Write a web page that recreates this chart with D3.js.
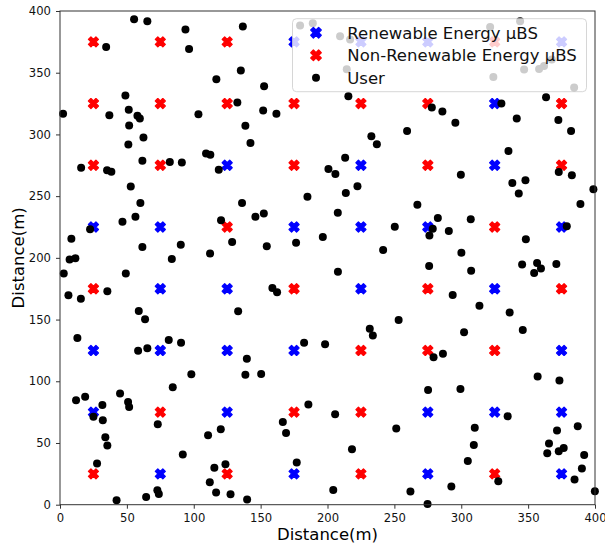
<!DOCTYPE html>
<html>
<head>
<meta charset="utf-8">
<script src="https://cdn.jsdelivr.net/npm/d3@7"></script>
<style>
  body { margin: 0; background: #fff; }
  text { font-family: "DejaVu Sans", sans-serif; }
</style>
</head>
<body>
<svg id="chart" width="605" height="546"></svg>
<script>
// station positions (m)
var renewable = [
  [175,375],[225,375],[275,375],[375,375],
  [325,325],
  [125,275],[225,275],[325,275],
  [25,225],[75,225],[175,225],[225,225],[275,225],[375,225],
  [75,175],[125,175],[225,175],[325,175],
  [25,125],[75,125],[125,125],[175,125],[375,125],
  [25,75],[125,75],[275,75],[325,75],[375,75],
  [75,25],[175,25],[275,25],[375,25]
];
var nonRenewable = [
  [25,375],[75,375],[125,375],[325,375],
  [25,325],[75,325],[125,325],[175,325],[225,325],[275,325],[375,325],
  [25,275],[75,275],[175,275],[275,275],[375,275],
  [125,225],[325,225],
  [25,175],[175,175],[275,175],[375,175],
  [225,125],[275,125],[325,125],
  [75,75],[175,75],[225,75],
  [25,25],[125,25],[225,25],[325,25]
];
// user positions (m)
var users = [
  [55.4,393.4],[65.3,391.7],[93.8,385.0],[136.7,387.4],[34.5,370.9],[96.5,369.3],[135.2,351.8],[116.9,344.8],
  [152.6,339.1],[48.9,331.6],[132.6,325.9],[2.3,316.7],[51.4,319.9],[36.9,315.6],[57.9,315.1],[59.7,313.0],
  [103.5,316.4],[151.9,319.4],[161.8,316.7],[51.7,307.3],[138.6,307.0],[62.4,297.6],[51.1,291.9],[142.4,293.0],
  [109.2,284.6],[112.4,283.5],[61.6,278.6],[82.1,277.6],[91.1,277.3],[15.8,273.0],[35.2,270.9],[38.4,269.7],
  [118.7,271.3],[200.7,271.9],[52.9,257.9],[60.1,244.4],[136.1,244.4],[185.0,249.5],[46.7,229.2],[56.4,233.3],
  [120.4,230.4],[146.1,233.3],[152.4,236.0],[22.5,223.1],[8.5,215.5],[61.6,208.7],[90.3,210.6],[128.7,212.8],
  [154.6,209.3],[176.5,212.2],[196.5,216.8],[112.2,203.5],[7.2,198.6],[11.5,199.7],[83.6,199.0],
  [179.5,388.3],[189.0,390.1],[209.4,379.6],[216.9,376.9],[321.6,387.1],[344.0,391.7],[214.4,352.9],[324.0,346.6],
  [347.0,352.6],[358.2,353.1],[361.9,355.5],[367.7,360.7],[384.4,338.1],
  [215.6,331.0],[363.4,330.2],[278.0,321.9],[285.9,318.6],[330.0,325.1],[341.5,313.0],[372.6,311.6],[295.6,309.4],
  [382.1,302.7],[259.5,302.7],[232.8,298.6],[236.9,292.1],[335.3,286.5],[213.2,281.1],[205.9,267.9],[299.7,267.3],
  [372.9,269.5],[382.7,267.0],[338.2,260.6],[348.0,262.8],[222.4,258.1],[213.7,252.5],[343.0,252.2],[398.8,255.5],
  [267.2,243.0],[389.1,243.6],[207.7,236.5],[282.5,232.2],[307.1,231.2],[250.3,225.2],[278.7,223.6],[276.2,218.2],
  [290.7,221.7],[378.9,225.7],[348.3,215.0],[241.6,206.3],[300.1,204.1],
  [2.8,187.4],[49.2,187.4],[6.3,169.6],[15.6,166.9],[35.4,172.9],[158.8,175.5],[162.3,172.1],[58.9,156.9],
  [63.6,150.2],[133.2,156.7],[13.0,135.1],[58.4,124.8],[65.3,126.7],[81.3,133.4],[90.5,131.3],[139.7,118.3],
  [138.6,105.3],[150.4,105.9],[182.5,131.3],[198.2,130.0],[98.2,105.7],[84.3,95.1],[44.9,90.0],[18.8,87.5],
  [12.0,84.6],[50.9,83.2],[51.7,79.2],[31.7,80.8],[25.0,71.3],[32.0,68.4],[33.9,54.7],[35.4,47.9],
  [73.1,65.2],[120.2,61.1],[110.7,56.3],[166.6,67.0],[169.0,58.1],[185.7,81.1],[91.8,40.6],[27.7,33.3],
  [115.4,30.0],[123.7,32.8],[177.0,34.1],[112.0,18.2],[116.7,9.9],[127.5,8.4],[139.9,4.3],[72.8,11.7],
  [73.9,8.7],[64.4,6.3],[42.3,3.6],
  [207.8,188.7],[276.0,193.4],[307.4,189.5],[345.5,194.7],[356.7,195.8],[354.5,187.7],[359.6,191.3],[371.1,195.1],
  [293.6,169.9],[313.6,161.2],[336.2,155.8],[253.2,149.6],[231.6,142.5],[233.9,137.0],[302.1,139.8],[346.0,141.6],
  [279.3,119.4],[286.3,122.3],[357.1,103.9],[373.4,100.6],[275.2,93.0],[299.4,93.8],[205.7,73.2],[334.7,71.6],
  [251.4,61.8],[310.1,62.3],[387.1,63.6],[371.6,60.2],[218.3,44.9],[309.4,48.4],[365.6,49.6],[364.3,41.6],
  [372.9,43.3],[376.6,46.0],[391.9,40.3],[304.9,35.4],[390.2,29.4],[327.7,19.1],[384.7,20.5],[204.3,12.0],
  [262.0,10.7],[292.6,14.7],[274.8,0.6],[399.9,10.9]
];
var ticks = [0, 50, 100, 150, 200, 250, 300, 350, 400];
var legendLabels = ["Renewable Energy \u00b5BS", "Non-Renewable Energy \u00b5BS", "User"];

var svg = d3.select("#chart");

var x = d3.scaleLinear().domain([0, 400]).range([60, 595]);
var y = d3.scaleLinear().domain([0, 400]).range([504.7, 11]);

// filled "X" marker like matplotlib's
var xShape = [[0.25,0],[0.5,0.25],[0.75,0],[1,0.25],[0.75,0.5],[1,0.75],[0.75,1],[0.5,0.75],[0.25,1],[0,0.75],[0.25,0.5],[0,0.25]];
function xPath(s) {
  return "M" + xShape.map(function(p) { return [(p[0]-0.5)*s, (p[1]-0.5)*s].join(","); }).join("L") + "Z";
}

function drawStations(data, color) {
  svg.append("g").selectAll("path")
    .data(data).enter().append("path")
    .attr("d", xPath(10))
    .attr("transform", function(d) { return "translate(" + x(d[0]) + "," + y(d[1]) + ")"; })
    .style("fill", color).style("stroke", color).style("stroke-width", 1.3)
    .style("stroke-linejoin", "round");
}
drawStations(renewable, "#0000ff");
drawStations(nonRenewable, "#ff0000");

svg.append("g").selectAll("circle")
  .data(users).enter().append("circle")
  .attr("cx", function(d) { return x(d[0]); })
  .attr("cy", function(d) { return y(d[1]); })
  .attr("r", 4)
  .style("fill", "#000");

// axes
var xAxis = d3.axisBottom(x).tickValues(ticks).tickSize(4).tickPadding(5).tickSizeOuter(0);
var gx = svg.append("g").attr("transform", "translate(0," + y(0) + ")").call(xAxis);
var yAxis = d3.axisLeft(y).tickValues(ticks).tickSize(4).tickPadding(5).tickSizeOuter(0);
var gy = svg.append("g").attr("transform", "translate(" + x(0) + ",0)").call(yAxis);
[gx, gy].forEach(function(g) {
  g.select(".domain").remove();
  g.selectAll("line").style("stroke", "#333");
  g.selectAll("text").style("font-size", "11.6px").style("font-family", "DejaVu Sans").style("fill", "#111");
});

svg.append("rect")
  .attr("x", x(0)).attr("y", y(400))
  .attr("width", x(400) - x(0)).attr("height", y(0) - y(400))
  .style("fill", "none").style("stroke", "#333").style("stroke-width", 1);

svg.append("text")
  .attr("x", (x(0) + x(400)) / 2).attr("y", 540.3)
  .attr("text-anchor", "middle")
  .style("font-size", "16.5px")
  .text("Distance(m)");

svg.append("text")
  .attr("transform", "translate(24," + (y(0) + y(400)) / 2 + ") rotate(-90)")
  .attr("text-anchor", "middle")
  .style("font-size", "16.5px")
  .text("Distance(m)");

// legend
var legend = svg.append("g");
legend.append("rect")
  .attr("x", 292.5).attr("y", 18.7).attr("width", 294).attr("height", 73)
  .attr("rx", 4)
  .style("fill", "#fff").style("fill-opacity", 0.8)
  .style("stroke", "#ccc").style("stroke-opacity", 0.8);

var rowY = [32.7, 55.3, 77.7];
var legendMarks = [["x", "#0000ff"], ["x", "#ff0000"], ["o", "#000"]];
legendMarks.forEach(function(m, i) {
  if (m[0] === "x") {
    legend.append("path").attr("d", xPath(10.5))
      .attr("transform", "translate(316," + rowY[i] + ")")
      .style("fill", m[1]).style("stroke", m[1]).style("stroke-width", 1.3)
      .style("stroke-linejoin", "round");
  } else {
    legend.append("circle").attr("cx", 316).attr("cy", rowY[i]).attr("r", 4).style("fill", m[1]);
  }
});

legend.selectAll("text.lab")
  .data(legendLabels).enter().append("text")
  .attr("class", "lab")
  .attr("x", 347.3)
  .attr("y", function(d, i) { return rowY[i] + 6; })
  .style("font-size", "16.5px")
  .style("fill", "#111")
  .text(function(d) { return d; });
</script>
</body>
</html>
